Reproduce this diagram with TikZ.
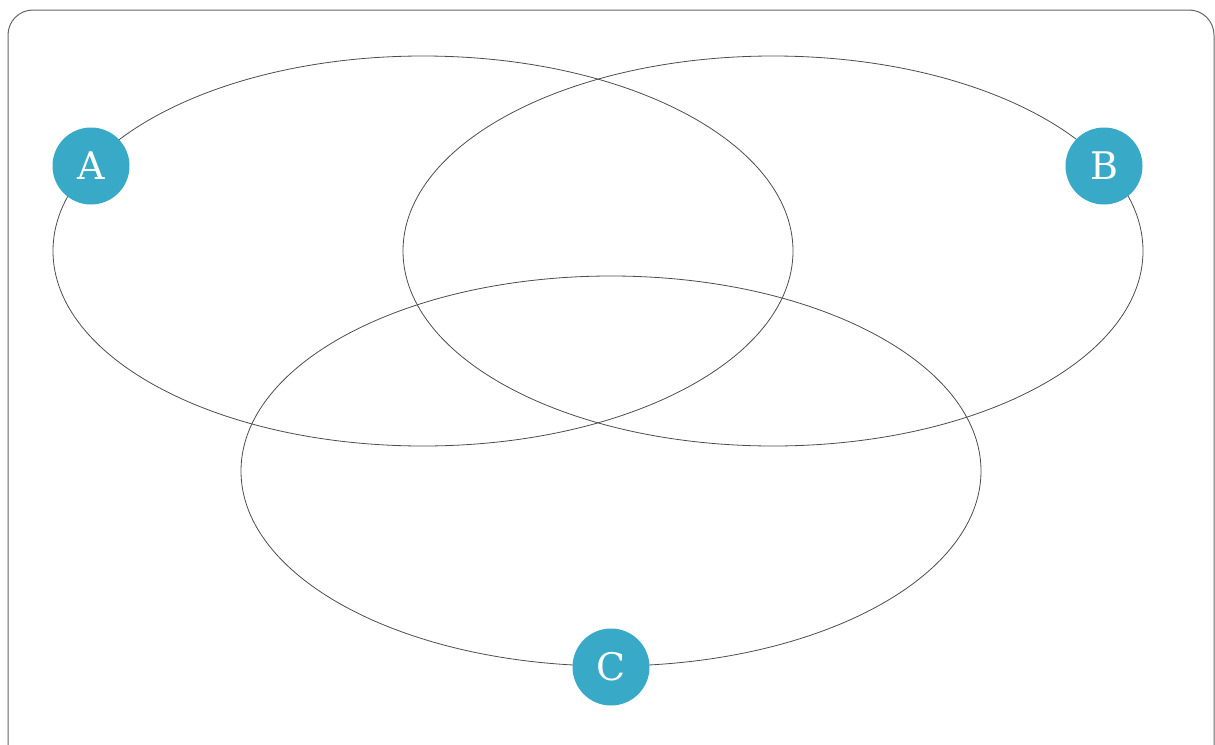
\documentclass[tikz,border=0pt]{standalone}
\usepackage{fontspec}
\setmainfont{DejaVu Serif}
\usepackage{xcolor}
\usetikzlibrary{positioning}
\definecolor{setblue}{HTML}{38A9C6}

\begin{document}
\begin{tikzpicture}[
    x=1pt, y=-1pt,
    frame/.style={draw=black!60, line width=1pt, rounded corners=25pt},
    setline/.style={draw=black!70, line width=0.8pt},
    setlabel/.style={circle, fill=setblue, text=white, inner sep=0pt,
                     minimum size=77pt, font=\fontsize{38}{38}\selectfont},
  ]
    \useasboundingbox (0,0) rectangle (1215,744);
    \clip (0,0) rectangle (1215,744);
    \draw[frame] (8,10) rectangle (1214,775);

    % the three sets
    \draw[setline] (423,251) ellipse [x radius=370, y radius=195];
    \draw[setline] (773,251) ellipse [x radius=370, y radius=195];
    \draw[setline] (611,471) ellipse [x radius=370, y radius=195];

    \node[setlabel] (A) at (91,166) {A};
    \node[setlabel] (B) at (1104,166) {B};
    \node[setlabel] (C) at (611,667) {C};
  \end{tikzpicture}
\end{document}
